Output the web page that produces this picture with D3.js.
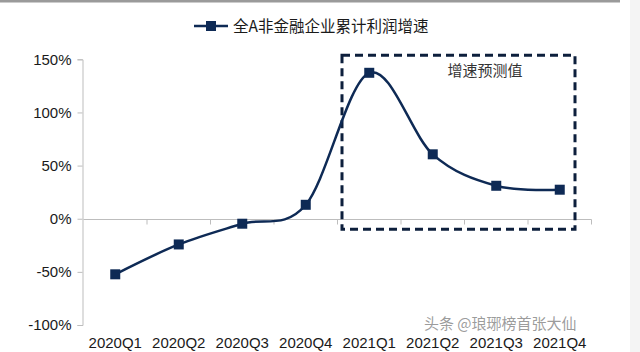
<!DOCTYPE html>
<html>
<head>
<meta charset="utf-8">
<script src="https://cdn.jsdelivr.net/npm/d3@7"></script>
<style>
  body { margin: 0; background: #fff; }
  svg { display: block; }
</style>
</head>
<body>
<div id="chart"></div>
<script>
var quarters = ["2020Q1", "2020Q2", "2020Q3", "2020Q4", "2021Q1", "2021Q2", "2021Q3", "2021Q4"];
var profitGrowth = [-52.3, -24.2, -4.7, 13.1, 137.3, 60.6, 31.0, 27.3];
var yTicks = [-100, -50, 0, 50, 100, 150];
var seriesName = "全A非金融企业累计利润增速";
var forecastLabel = "增速预测值";
var forecastFrom = "2021Q1";
var watermark = "头条 @琅琊榜首张大仙";

var W = 640, H = 352;
var navy = "#0e2a55";

var svg = d3.select("#chart").append("svg")
    .attr("width", W)
    .attr("height", H);

// page bits around the chart image
svg.append("rect").attr("x", 0).attr("y", 0).attr("width", 620).attr("height", 2.5).attr("fill", "#9a9a9a");
svg.append("rect").attr("x", 630).attr("y", 0).attr("width", 10).attr("height", H).attr("fill", "#f4f4f4");

var x = d3.scaleBand()
    .domain(quarters)
    .range([83.5, 591.5]);

var y = d3.scaleLinear()
    .domain([-100, 150])
    .range([325, 59.3]);

// y axis
var yAxis = svg.append("g")
    .attr("transform", "translate(82.5,0)")
    .call(d3.axisLeft(y).tickValues(yTicks).tickSize(5).tickPadding(6).tickFormat(function(d) {return d + "%"}));
yAxis.select(".domain").attr("stroke", "#bdbdbd");
yAxis.selectAll(".tick line").attr("stroke", "#bdbdbd");
yAxis.selectAll("text")
    .attr("fill", "#1a1a1a")
    .style("font-family", "Liberation Sans, Arial, sans-serif")
    .style("font-size", "15px");

// zero line with category ticks
var zeroY = Math.round(y(0)) + 0.5;
svg.append("line")
    .attr("x1", x.range()[0]).attr("x2", x.range()[1])
    .attr("y1", zeroY).attr("y2", zeroY)
    .attr("stroke", "#bdbdbd");
svg.selectAll(".cattick")
    .data(quarters.slice(1).concat(["end"]))
    .enter()
    .append("line")
    .attr("x1", function(d, i) {return x.range()[0] + (i + 1) * x.bandwidth()})
    .attr("x2", function(d, i) {return x.range()[0] + (i + 1) * x.bandwidth()})
    .attr("y1", zeroY)
    .attr("y2", zeroY + 5)
    .attr("stroke", "#bdbdbd");

// category labels along the bottom
svg.selectAll(".catlabel")
    .data(quarters)
    .enter()
    .append("text")
    .attr("x", function(d) {return x(d) + x.bandwidth() / 2})
    .attr("y", 348)
    .attr("text-anchor", "middle")
    .attr("fill", "#1a1a1a")
    .style("font-family", "Liberation Sans, Arial, sans-serif")
    .style("font-size", "15px")
    .text(function(d) {return d});

// forecast box
var boxLeft = x(forecastFrom) + 4.5;
svg.append("rect")
    .attr("x", boxLeft)
    .attr("y", y(150) - 4)
    .attr("width", x.range()[1] - boxLeft - 16.5)
    .attr("height", 174)
    .attr("fill", "none")
    .attr("stroke", "#0d1f3c")
    .attr("stroke-width", 3)
    .attr("stroke-dasharray", "8,5");

svg.append("text")
    .attr("x", 485)
    .attr("y", 76)
    .attr("text-anchor", "middle")
    .attr("fill", "#333")
    .style("font-family", "Noto Sans CJK SC, sans-serif")
    .style("font-size", "15px")
    .text(forecastLabel);

// series line
var line = d3.line()
    .x(function(d, i) {return x(quarters[i]) + x.bandwidth() / 2})
    .y(function(d) {return y(d)})
    .curve(d3.curveCardinal);

svg.append("path")
    .datum(profitGrowth)
    .attr("d", line)
    .attr("fill", "none")
    .attr("stroke", navy)
    .attr("stroke-width", 2.5);

svg.selectAll(".marker")
    .data(profitGrowth)
    .enter()
    .append("rect")
    .attr("x", function(d, i) {return x(quarters[i]) + x.bandwidth() / 2 - 5})
    .attr("y", function(d) {return y(d) - 5})
    .attr("width", 10)
    .attr("height", 10)
    .attr("fill", navy);

// legend
var legend = svg.append("g").attr("transform", "translate(194,26)");
legend.append("line").attr("x1", 0).attr("x2", 34).attr("stroke", navy).attr("stroke-width", 2.5);
legend.append("rect").attr("x", 12).attr("y", -5).attr("width", 10).attr("height", 10).attr("fill", navy);
legend.append("text")
    .attr("x", 39)
    .attr("y", 5.5)
    .attr("fill", "#1a1a1a")
    .style("font-family", "Noto Sans CJK SC, sans-serif")
    .style("font-size", "15.5px")
    .text(seriesName);

// watermark
svg.append("text")
    .attr("x", 424)
    .attr("y", 329)
    .attr("fill", "#8a8a8a")
    .attr("fill-opacity", 0.85)
    .style("font-family", "Noto Sans CJK SC, sans-serif")
    .style("font-size", "15px")
    .text(watermark);
</script>
</body>
</html>
